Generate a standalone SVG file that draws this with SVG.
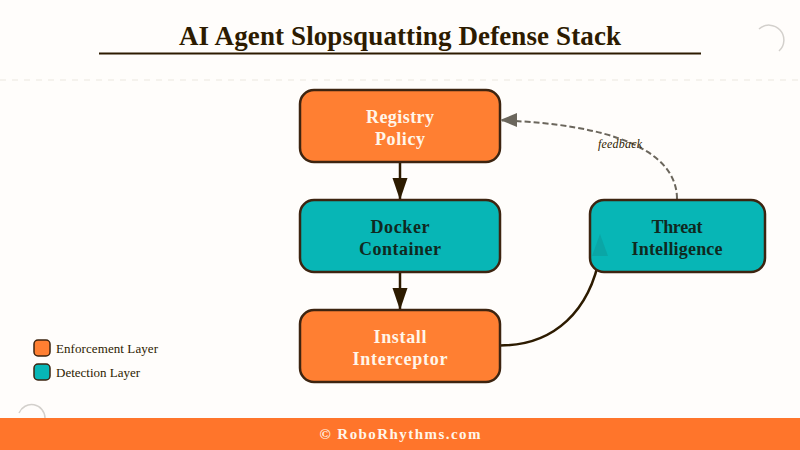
<svg xmlns="http://www.w3.org/2000/svg" width="800" height="450" viewBox="0 0 800 450">
<style>
text{font-family:"Liberation Serif","DejaVu Serif",serif}
.node{stroke:#3d2410;stroke-width:2.500}
.enf{fill:#ff7f32}
.det{fill:#07b6b6}
.lab{font-size:18px;font-weight:bold;text-anchor:middle}
.w{fill:#fff6ea}
.d{fill:#10291f}
.leg{font-size:13px;fill:#2d1b00}
.c{fill:none;stroke:#2d1b00;stroke-width:2.500}
</style>
<defs>
<marker id="a" markerUnits="userSpaceOnUse" markerWidth="23" markerHeight="16" refX="22" refY="7.500" orient="auto"><path d="M0 0L22 7.500L0 15Z" fill="#2d1b00"/></marker>
</defs>
<rect width="800" height="450" fill="#fffdfb"/>
<line x1="0" y1="80" x2="800" y2="80" stroke="#f2eee9" stroke-width="1.500" stroke-dasharray="6 6"/>
<path d="M759 29A13.500 13.500 0 1 1 779 51" fill="none" stroke="#d3d0cc" stroke-width="1.500"/>
<path d="M19 413A13.500 13.500 0 0 1 45 418" fill="none" stroke="#d3d0cc" stroke-width="1.500"/>
<g id="title">
<text x="179" y="44.500" font-size="27" font-weight="bold" textLength="442" lengthAdjust="spacing" fill="#2d1b00">AI Agent Slopsquatting Defense Stack</text>
<line x1="99" y1="53.500" x2="701" y2="53.500" stroke="#2d1b00" stroke-width="2"/>
</g>
<g id="connectors">
<path class="c" d="M400 162V200" marker-end="url(#a)"/>
<path class="c" d="M400 272V310" marker-end="url(#a)"/>
<path d="M500 345.500C555 345.500 590 310 600 255" fill="none" stroke="#2d1b00" stroke-width="2.500"/>
<path d="M677 199C677 150 610 124 502 120.500" fill="none" stroke="#6b665c" stroke-width="2" stroke-dasharray="6 3"/>
</g>
<g id="registry-policy"><rect class="node enf" x="300" y="90" width="200" height="72" rx="14"/><text class="lab w" x="400" y="122.500" textLength="68">Registry</text><text class="lab w" x="400" y="144.500" textLength="50">Policy</text></g>
<g id="docker-container"><rect class="node det" x="300" y="200" width="200" height="72" rx="14"/><text class="lab d" x="400" y="232.500" textLength="59">Docker</text><text class="lab d" x="400" y="254.500" textLength="82">Container</text></g>
<g id="install-interceptor"><rect class="node enf" x="300" y="310" width="200" height="72" rx="14"/><text class="lab w" x="400" y="342.500" textLength="53">Install</text><text class="lab w" x="400" y="364.500" textLength="95">Interceptor</text></g>
<g id="threat-intelligence"><rect class="node det" x="590" y="200" width="175" height="72" rx="14"/><text class="lab d" x="677" y="232.500" textLength="51">Threat</text><text class="lab d" x="677" y="254.500" textLength="91">Intelligence</text></g>
<g id="arrowheads">
<path d="M600 234L608 256H592Z" fill="#0aa6a6"/>
<path d="M500 120L517 113V127Z" fill="#6b665c"/>
</g>
<text x="598" y="148" font-size="12" font-style="italic" textLength="44" fill="#2d1b00">feedback</text>
<g id="legend">
<rect x="34" y="340" width="16" height="16" rx="4" class="enf" stroke="#3d2410" stroke-width="1.500"/>
<text class="leg" x="56" y="353" textLength="102">Enforcement Layer</text>
<rect x="34" y="364" width="16" height="16" rx="4" class="det" stroke="#3d2410" stroke-width="1.500"/>
<text class="leg" x="56" y="377" textLength="84">Detection Layer</text>
</g>
<g id="footer">
<rect y="418" width="800" height="32" fill="#ff752b"/>
<text x="319.500" y="439" font-size="15" font-weight="bold" textLength="161" fill="#fff6ea">© RoboRhythms.com</text>
</g>
</svg>
